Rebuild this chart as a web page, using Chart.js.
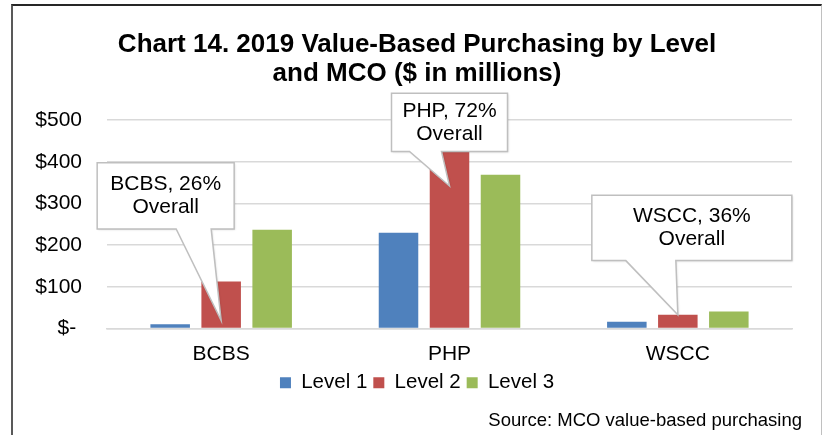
<!DOCTYPE html>
<html>
<head>
  <title>Chart 14. 2019 Value-Based Purchasing</title>
  <script src="https://cdn.jsdelivr.net/npm/chart.js"></script>
  <style>
    body {
      margin: 0;
      background: #fff;
    }

    #frame {
      position: absolute;
      left: 11px;
      top: 4px;
      width: 811px;
      height: 440px;
      box-sizing: border-box;
      border-left: 2px solid #595959;
      border-top: 2px solid #262626;
      border-right: 1px solid #c0c0c0;
    }

    #chart {
      position: absolute;
      left: 0;
      top: 0;
    }
  </style>
</head>
<body>
  <div id="frame"></div>
  <canvas id="chart" width="822" height="435"></canvas>

  <script>
    const categories = ["BCBS", "PHP", "WSCC"];
    const seriesNames = ["Level 1", "Level 2", "Level 3"];
    const level1 = [10, 230, 16];
    const level2 = [113, 430, 33];
    const level3 = [237, 369, 41];
    const yTickValues = [0, 100, 200, 300, 400, 500];

    const colors = ["#4f81bd", "#c0504d", "#9bbb59"];
    const FONT = "'Liberation Sans', Arial, sans-serif";

    // callout boxes point at the Level 2 bar of each category
    const callouts = [
      { index: 0, lines: ["BCBS, 26%", "Overall"], left: -124, right: 13, top: 398, bottom: 239, base: [-45, -10], tip: 19 },
      { index: 1, lines: ["PHP, 72%", "Overall"], left: -58, right: 58, top: 565, bottom: 425, base: [-40, -8], tip: 342 },
      { index: 2, lines: ["WSCC, 36%", "Overall"], left: -86, right: 114, top: 320, bottom: 163, base: [-52, -2], tip: 33 }
    ];

    const calloutPlugin = {
      id: "callouts",
      afterDatasetsDraw(chart) {
        const ctx = chart.ctx;
        const y = chart.scales.y;
        const meta = chart.getDatasetMeta(1);
        callouts.forEach(c => {
          const cx = meta.data[c.index].x;
          const l = cx + c.left, r = cx + c.right;
          const t = y.getPixelForValue(c.top), b = y.getPixelForValue(c.bottom);
          ctx.save();
          ctx.beginPath();
          ctx.moveTo(l, t);
          ctx.lineTo(r, t);
          ctx.lineTo(r, b);
          ctx.lineTo(cx + c.base[1], b);
          ctx.lineTo(cx, y.getPixelForValue(c.tip));
          ctx.lineTo(cx + c.base[0], b);
          ctx.lineTo(l, b);
          ctx.closePath();
          ctx.shadowColor = "rgba(0,0,0,0.15)";
          ctx.shadowOffsetX = 1;
          ctx.shadowOffsetY = 1;
          ctx.shadowBlur = 2;
          ctx.fillStyle = "#fff";
          ctx.fill();
          ctx.shadowColor = "transparent";
          ctx.strokeStyle = "#bfbfbf";
          ctx.lineWidth = 1.5;
          ctx.stroke();
          ctx.fillStyle = "#000";
          ctx.font = "21px " + FONT;
          ctx.textAlign = "center";
          ctx.textBaseline = "middle";
          const mid = (t + b) / 2;
          ctx.fillText(c.lines[0], (l + r) / 2, mid - 11.5);
          ctx.fillText(c.lines[1], (l + r) / 2, mid + 11.5);
          ctx.restore();
        });
      }
    };

    const sourcePlugin = {
      id: "source",
      afterDraw(chart) {
        const ctx = chart.ctx;
        ctx.save();
        ctx.font = "18.5px " + FONT;
        ctx.fillStyle = "#000";
        ctx.textAlign = "right";
        ctx.textBaseline = "middle";
        ctx.fillText("Source: MCO value-based purchasing", 802, 421);
        ctx.restore();
      }
    };

    const datasets = [level1, level2, level3].map((values, i) => ({
      label: seriesNames[i],
      data: values,
      backgroundColor: colors[i],
      categoryPercentage: 0.67,
      barPercentage: 0.775
    }));

    new Chart(document.getElementById("chart").getContext("2d"), {
      type: "bar",
      data: { labels: categories, datasets: datasets },
      options: {
        responsive: false,
        animation: false,
        layout: { padding: { left: 12, right: 0, top: 20, bottom: 32 } },
        scales: {
          x: {
            afterFit: axis => { axis.height = 38; },
            grid: { display: false, drawTicks: false },
            border: { color: "#d9d9d9", width: 1.5 },
            ticks: { color: "#000", padding: 13, font: { family: FONT, size: 21 } }
          },
          y: {
            min: 0,
            max: 500,
            afterFit: axis => { axis.width = 95; },
            afterBuildTicks: axis => { axis.ticks = yTickValues.map(v => ({ value: v })); },
            grid: { color: "#d9d9d9", lineWidth: 1.5, drawTicks: false },
            border: { display: false },
            ticks: {
              color: "#000",
              padding: 25,
              font: { family: FONT, size: 21 },
              callback: v => v === 0 ? "$- " : "$" + v
            }
          },
          // empty spacer on the right so the plot ends where the original does
          spacer: {
            position: "right",
            display: true,
            afterFit: axis => { axis.width = 30; },
            grid: { display: false, drawTicks: false },
            border: { display: false },
            ticks: { display: false }
          }
        },
        plugins: {
          title: {
            display: true,
            text: ["Chart 14. 2019 Value-Based Purchasing by Level", "and MCO ($ in millions)"],
            color: "#000",
            font: { family: FONT, size: 26, weight: "bold", lineHeight: 1.12 },
            padding: { top: 10, bottom: 32 }
          },
          legend: {
            position: "bottom",
            labels: {
              color: "#000",
              boxWidth: 11,
              boxHeight: 11,
              padding: 6,
              font: { family: FONT, size: 20.5 }
            }
          },
          tooltip: { enabled: false }
        }
      },
      plugins: [calloutPlugin, sourcePlugin]
    });
  </script>
</body>
</html>
